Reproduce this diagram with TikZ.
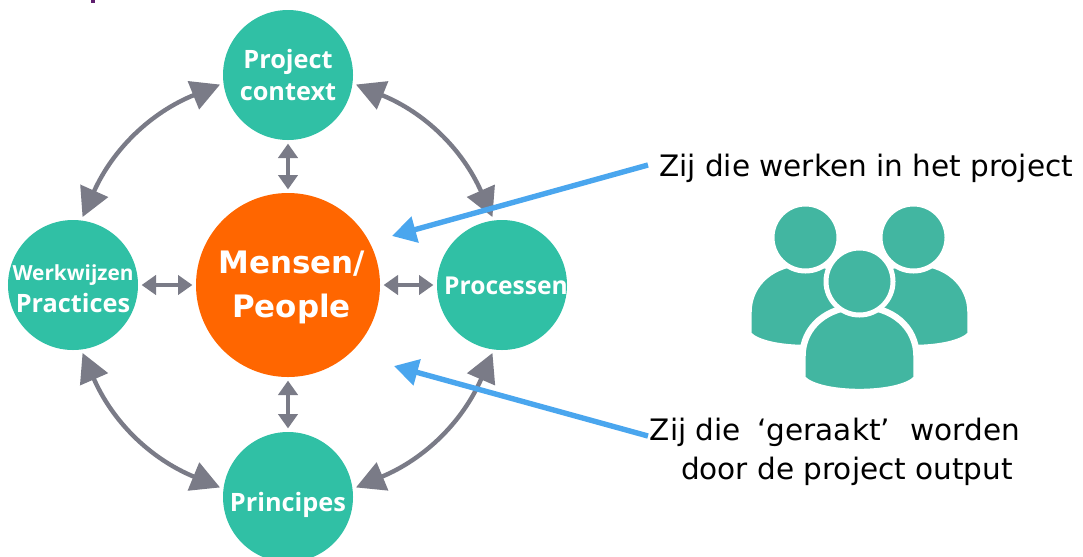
\documentclass[tikz,border=0pt]{standalone}
\usepackage{fontspec}
\setmainfont{DejaVu Sans}
\newfontfamily\labelfont{Open Sans}
\usetikzlibrary{arrows.meta}
\definecolor{tealnode}{HTML}{30C0A5}
\definecolor{tealicon}{HTML}{42B6A1}
\definecolor{orangenode}{HTML}{FF6600}
\definecolor{greyarrow}{HTML}{7A7B87}
\definecolor{bluearrow}{HTML}{4AA6EE}
\definecolor{purpletitle}{HTML}{5E1F6E}
\tikzset{
	smallnode/.style={circle, fill=tealnode, minimum size=32.5mm, inner sep=0, outer sep=0.9mm, text=white, align=center, font=\labelfont\bfseries\fontsize{18}{22.3}\selectfont},
	bignode/.style={circle, fill=orangenode, minimum size=46mm, inner sep=0, outer sep=0.9mm, text=white, align=center, font=\bfseries\fontsize{22}{31.5}\selectfont},
	longarrow/.style={{Triangle[length=7.2mm,width=7.4mm]}-{Triangle[length=7.2mm,width=7.4mm]}, line width=1.1mm, draw=greyarrow},
	shortarrow/.style={{Triangle[length=3.6mm,width=4.8mm]}-{Triangle[length=3.6mm,width=4.8mm]}, line width=1mm, draw=greyarrow},
	bluepointer/.style={-{Triangle[length=6mm,width=6.5mm]}, line width=1.35mm, draw=bluearrow},
	saying/.style={align=center, inner sep=0, font=\fontsize{21}{27.3}\selectfont}
}
\def\person(#1,#2){
	\draw[fill=tealicon, draw=white, line width=1.6mm] (#1-57,#2+97) -- (#1-57,#2+75) .. controls (#1-57,#2+45) and (#1-32,#2+25) .. (#1,#2+25) .. controls (#1+32,#2+25) and (#1+57,#2+45) .. (#1+57,#2+75) -- (#1+57,#2+97) .. controls (#1+40,#2+115) and (#1-40,#2+115) .. cycle;
	\draw[fill=tealicon, draw=white, line width=1.25mm] (#1,#2) circle (33.5);
}

\begin{document}
\begin{tikzpicture}[x=0.25mm, y=-0.25mm]
	\useasboundingbox (0,0) rectangle (1083,556);
	\fill[purpletitle] (91,0) rectangle (95,3);

	\node[bignode] (mensen) at (288,285) {\rule{0pt}{20pt}\hspace*{1.8mm}Mensen/\\\hspace*{1.8mm}People};
	\node[smallnode] (context) at (288,75) {Project\\context};
	\node[smallnode, text height=13.8pt, text depth=0pt] (processen) at (502,285) {\makebox[0pt]{\fontsize{17.5}{22}\selectfont\hspace*{2mm}Processen}};
	\node[smallnode, text height=20.9pt, text depth=0pt] (principes) at (288,497) {Principes};
	\node[smallnode] (werkwijzen) at (73,285) {\rule{0pt}{16.3pt}\makebox[0pt]{\fontsize{14.8}{22}\selectfont Werkwijzen}\\\makebox[0pt]{Practices}};

	\draw[longarrow] (context.188) to[bend right=22] (werkwijzen.82);
	\draw[longarrow] (context.-8) to[bend left=22] (processen.98);
	\draw[longarrow] (processen.-98) to[bend left=22] (principes.8);
	\draw[longarrow] (werkwijzen.-82) to[bend right=22] (principes.172);

	\draw[shortarrow] (context) -- (mensen);
	\draw[shortarrow] (mensen) -- (principes);
	\draw[shortarrow] (werkwijzen) -- (mensen);
	\draw[shortarrow] (mensen) -- (processen);

	\node[saying] (werken) at (866,168) {Zij die werken in het project};
	\node[saying] (geraakt) at (847,452) {Zij die\kern5pt{} ‘geraakt’\kern8pt{} worden\hspace*{6mm}\\door de project output};
	\coordinate (werkenstart) at (648,165);
	\coordinate (werkenend) at (392,236);
	\coordinate (geraaktstart) at (648,436);
	\coordinate (geraaktend) at (394,366);
	\draw[bluepointer] (werkenstart) -- (werkenend);
	\draw[bluepointer] (geraaktstart) -- (geraaktend);

	\person(805.5,237.5)
	\person(913.5,237.5)
	\person(859.5,281.5)
\end{tikzpicture}
\end{document}
